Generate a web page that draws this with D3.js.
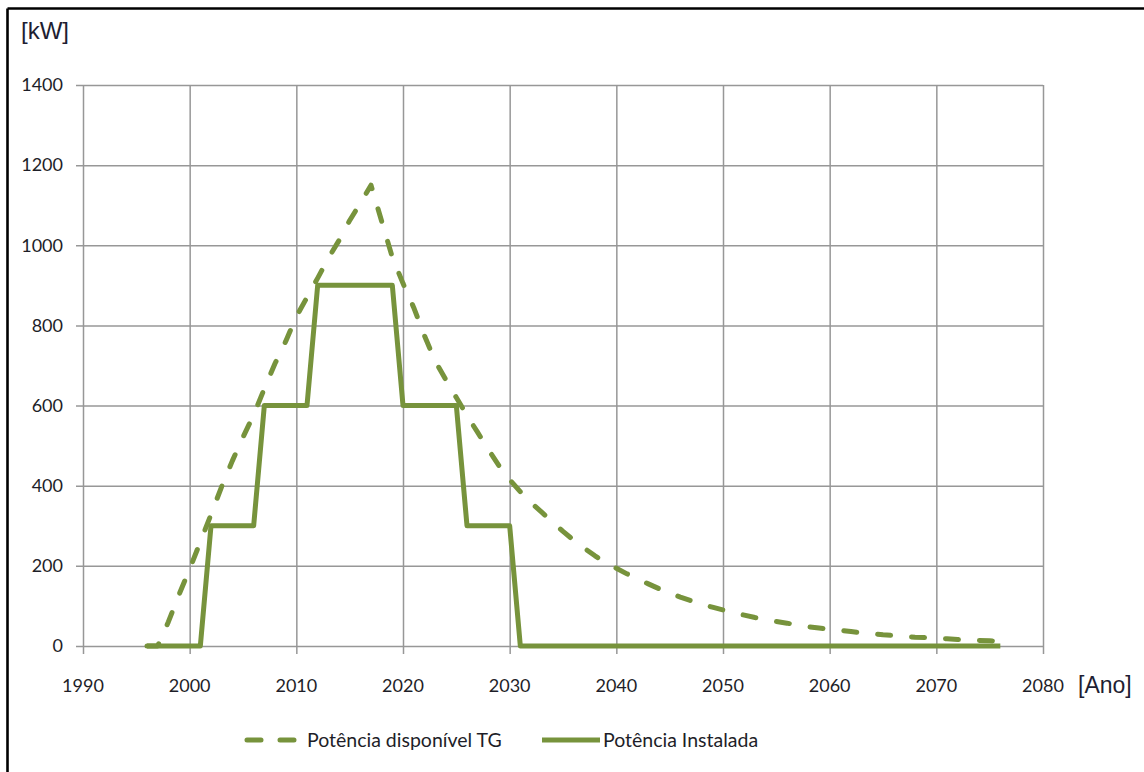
<!DOCTYPE html>
<html>
<head>
<meta charset="utf-8">
<script src="https://cdn.jsdelivr.net/npm/d3@7"></script>
<style>
  html, body { margin: 0; padding: 0; background: #fff; }
  svg { display: block; }
  .tick-label { font-family: Lato, "Open Sans", sans-serif; font-size: 18px; fill: #1e1e28; }
  .unit { font-family: "Liberation Sans", Arial, sans-serif; fill: #1e1e32; }
  .legend-text { font-family: Lato, "Open Sans", sans-serif; font-size: 19.5px; fill: #1e1e28; }
</style>
</head>
<body>
<svg id="chart" width="1144" height="772"></svg>
<script>
// Years on the horizontal axis (one point per year)
const years = d3.range(1996, 2077);

// Available landfill-gas power, kW
const potenciaDisponivel = [
  0, 0, 60, 128,                                          // 1996-1999
  192, 260, 328, 398, 462, 521, 577, 642, 705, 760,       // 2000-2009
  822, 870, 918, 968, 1012, 1062, 1105, 1150, 1060, 970,  // 2010-2019
  905, 845, 775, 712, 665, 620, 575, 533, 490, 450,       // 2020-2029
  415, 385, 358, 334, 310, 286, 264, 244, 225, 208,       // 2030-2039
  194, 180, 167, 155, 143, 132, 122, 113, 104, 97,        // 2040-2049
  90, 83, 77, 71, 66, 61, 57, 52, 48, 45,                 // 2050-2059
  42, 39, 36, 33, 31, 28, 26, 24, 22, 21,                 // 2060-2069
  19, 18, 16, 15, 14, 13, 12                              // 2070-2076
];

// Installed generator power, kW
const potenciaInstalada = [
  0, 0, 0, 0,                                             // 1996-1999
  0, 0, 300, 300, 300, 300, 300, 600, 600, 600,           // 2000-2009
  600, 600, 900, 900, 900, 900, 900, 900, 900, 900,       // 2010-2019
  600, 600, 600, 600, 600, 600, 300, 300, 300, 300,       // 2020-2029
  300, 0, 0, 0, 0, 0, 0, 0, 0, 0,                         // 2030-2039
  0, 0, 0, 0, 0, 0, 0, 0, 0, 0,                           // 2040-2049
  0, 0, 0, 0, 0, 0, 0, 0, 0, 0,                           // 2050-2059
  0, 0, 0, 0, 0, 0, 0, 0, 0, 0,                           // 2060-2069
  0, 0, 0, 0, 0, 0, 0                                     // 2070-2076
];

// Axis ticks and labels
const xTicks = [1990, 2000, 2010, 2020, 2030, 2040, 2050, 2060, 2070, 2080];
const yTicks = [0, 200, 400, 600, 800, 1000, 1200, 1400];
const seriesNames = ["Potência disponível TG", "Potência Instalada"];
const unitY = "[kW]";
const unitX = "[Ano]";

const green = "#77933c";
const gridColor = "#979797";

const svg = d3.select("#chart");
svg.append("rect").attr("width", 1144).attr("height", 772).attr("fill", "#fff");

// Frame lines along the top and left edges
svg.append("line").attr("x1", 7.5).attr("x2", 1144).attr("y1", 8.5).attr("y2", 8.5)
  .attr("stroke", "#000").attr("stroke-width", 2.6);
svg.append("line").attr("x1", 7.5).attr("x2", 7.5).attr("y1", 8.5).attr("y2", 772)
  .attr("stroke", "#000").attr("stroke-width", 2.6);

const x = d3.scaleLinear().domain([1990, 2080]).range([83, 1043]);
const y = d3.scaleLinear().domain([0, 1400]).range([646, 85]);

// Horizontal gridlines with a short outward tick on the left
const yAxis = svg.append("g")
  .attr("transform", `translate(${x(1990)},0)`)
  .call(d3.axisLeft(y).tickValues(yTicks).tickSizeInner(-(x(2080) - x(1990))).tickSizeOuter(0).tickFormat(""));
yAxis.select(".domain").remove();
yAxis.selectAll(".tick line")
  .attr("x1", -7)
  .attr("stroke", gridColor).attr("stroke-width", 1.5);

// Vertical gridlines with a short outward tick at the bottom
const xAxis = svg.append("g")
  .attr("transform", `translate(0,${y(0)})`)
  .call(d3.axisBottom(x).tickValues(xTicks).tickSizeInner(-(y(0) - y(1400))).tickSizeOuter(0).tickFormat(""));
xAxis.select(".domain").remove();
xAxis.selectAll(".tick line")
  .attr("y1", 8)
  .attr("stroke", gridColor).attr("stroke-width", 1.5);

// Tick labels
svg.append("g").selectAll("text").data(yTicks).join("text")
  .attr("class", "tick-label")
  .attr("x", 63).attr("y", d => y(d))
  .attr("dy", "0.35em")
  .attr("text-anchor", "end")
  .text(d => d);

svg.append("g").selectAll("text").data(xTicks).join("text")
  .attr("class", "tick-label")
  .attr("x", d => x(d)).attr("y", 692)
  .attr("text-anchor", "middle")
  .text(d => d);

// Unit labels
svg.append("text").attr("class", "unit").attr("font-size", 24).attr("x", 21).attr("y", 39).text(unitY);
svg.append("text").attr("class", "unit").attr("font-size", 23).attr("x", 1078).attr("y", 693).text(unitX);

// Series
const rowsDisp = years.map((yr, i) => ({ yr, v: potenciaDisponivel[i] }));
const rowsInst = years.map((yr, i) => ({ yr, v: potenciaInstalada[i] }));
const line = d3.line().x(d => x(d.yr)).y(d => y(d.v));

svg.append("path").datum(rowsDisp)
  .attr("d", line)
  .attr("fill", "none").attr("stroke", green).attr("stroke-width", 5)
  .attr("stroke-dasharray", "13,21").attr("stroke-linecap", "round").attr("stroke-linejoin", "round");

svg.append("path").datum(rowsInst)
  .attr("d", line)
  .attr("fill", "none").attr("stroke", green).attr("stroke-width", 5)
  .attr("stroke-linecap", "butt").attr("stroke-linejoin", "round");

// Legend
const legendY = 740;
const legend = svg.append("g");
legend.append("line").attr("x1", 247).attr("x2", 295).attr("y1", legendY).attr("y2", legendY)
  .attr("stroke", green).attr("stroke-width", 5)
  .attr("stroke-dasharray", "14,19").attr("stroke-linecap", "round");
legend.append("text").attr("class", "legend-text").attr("x", 307).attr("y", legendY).attr("dy", "0.35em")
  .text(seriesNames[0]);
legend.append("line").attr("x1", 542).attr("x2", 600).attr("y1", legendY).attr("y2", legendY)
  .attr("stroke", green).attr("stroke-width", 5);
legend.append("text").attr("class", "legend-text").attr("x", 603).attr("y", legendY).attr("dy", "0.35em")
  .text(seriesNames[1]);
</script>
</body>
</html>
